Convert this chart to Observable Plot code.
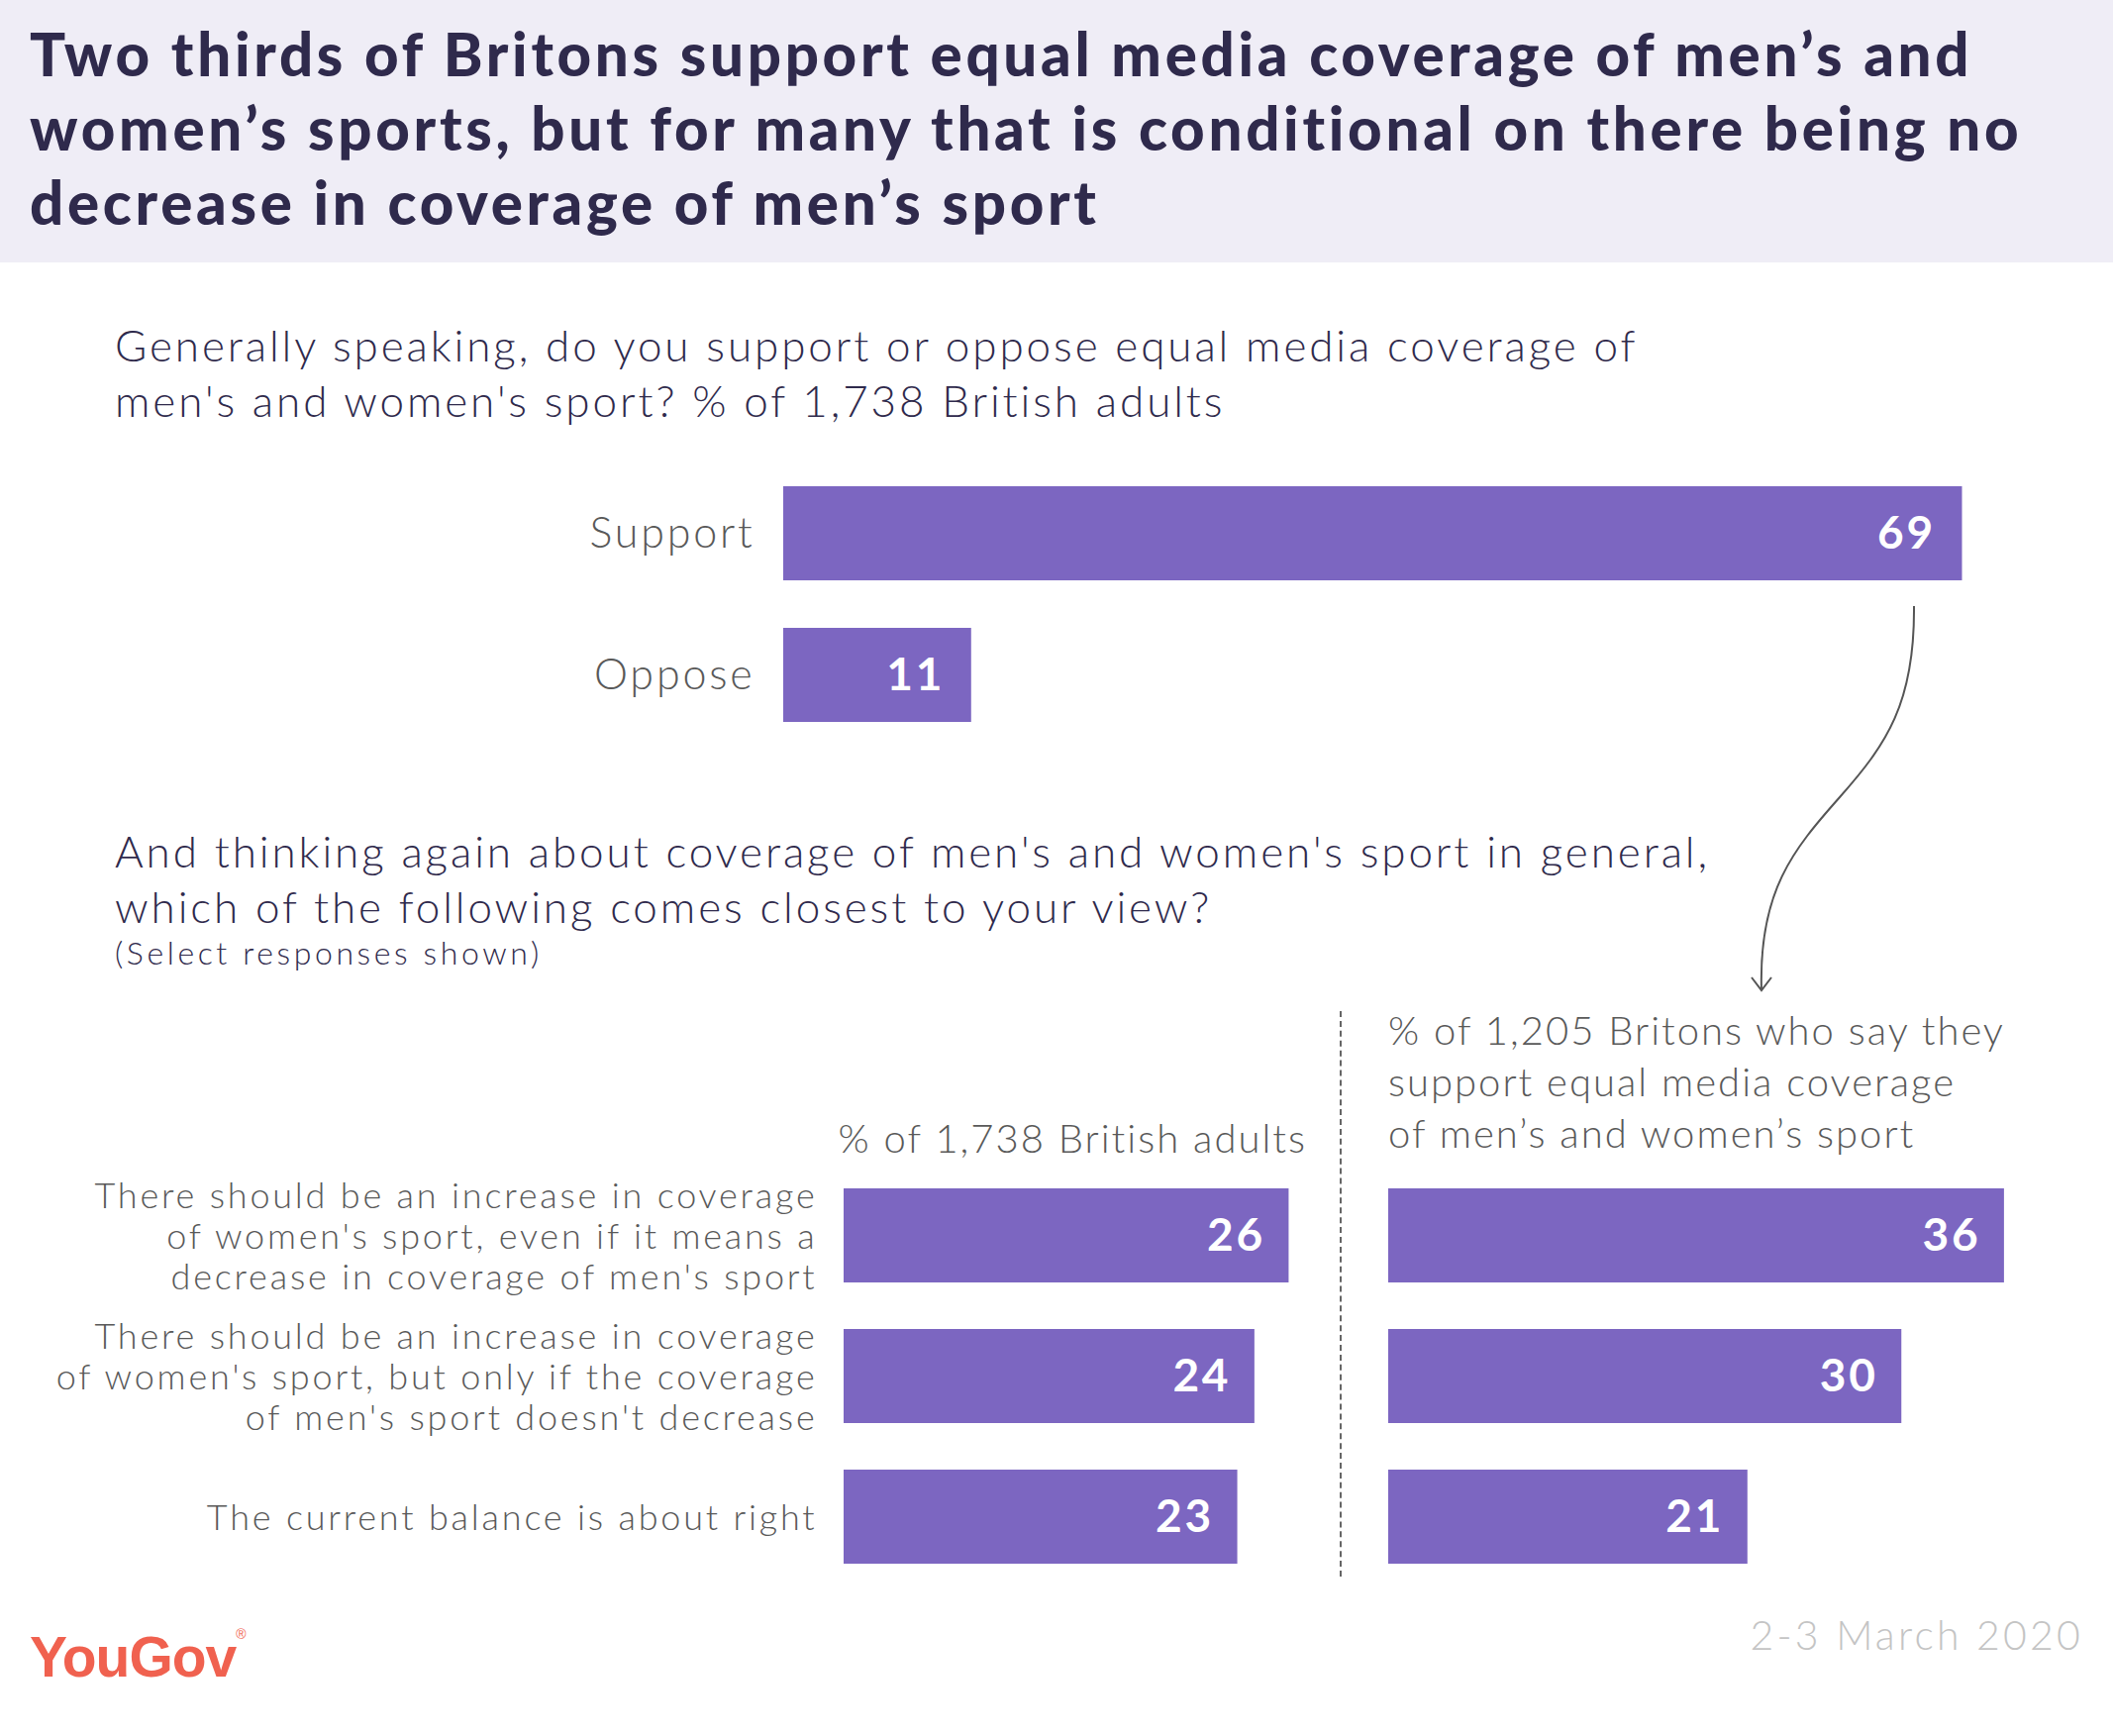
<!DOCTYPE html>
<html>
<head>
<meta charset="utf-8">
<script src="https://cdn.jsdelivr.net/npm/d3@7"></script>
<script src="https://cdn.jsdelivr.net/npm/@observablehq/plot@0.6"></script>
<style>
  html, body { margin: 0; padding: 0; background: #fff; }
  #page { position: relative; width: 2134px; height: 1753px; overflow: hidden; font-family: Lato, "Open Sans", sans-serif; background: #fff; }
  .abs { position: absolute; white-space: nowrap; }
  #header { position: absolute; left: 0; top: 0; width: 2134px; height: 265px; background: #efedf6; }
  #title { left: 30px; top: 17px; font-size: 60px; line-height: 75px; font-weight: 900; color: #2f2a4c; letter-spacing: 3.7px; }
  .q { color: #2f2a4c; font-weight: 300; letter-spacing: 2.9px; }
  #q1 { left: 116px; top: 320px; font-size: 44px; line-height: 56px; }
  #q2 { left: 116px; top: 831px; font-size: 44px; line-height: 56px; }
  #q2sub { left: 116px; top: 942px; font-size: 32px; line-height: 40px; letter-spacing: 3.6px; }
  .sub { color: #595959; font-weight: 300; font-size: 40px; letter-spacing: 2px; }
  #lefthead { right: 814px; top: 1124px; line-height: 50px; text-align: right; }
  #righthead { left: 1402px; top: 1014px; line-height: 52px; }
  #sep { position: absolute; left: 1353px; top: 1021px; width: 0; height: 571px; border-left: 2px dashed #666; }
  #logo { left: 30px; top: 1616px; font-family: "Liberation Sans", Arial, sans-serif; font-weight: 700; font-size: 57px; line-height: 68px; color: #f0614f; letter-spacing: -1px; }
  #logo sup { font-size: 14px; font-weight: 400; vertical-align: 38px; letter-spacing: 0; }
  #date { right: 30px; top: 1626px; font-size: 41px; line-height: 50px; color: #c4c4c4; font-weight: 300; letter-spacing: 3.2px; }
  .chart { position: absolute; }
  #arrow { position: absolute; left: 0; top: 0; }
</style>
</head>
<body>
<div id="page">
  <div id="header"></div>
  <div id="title" class="abs">Two thirds of Britons support equal media coverage of men’s and<br>women’s sports, but for many that is conditional on there being no<br>decrease in coverage of men’s sport</div>
  <div id="q1" class="abs q">Generally speaking, do you support or oppose equal media coverage of<br>men's and women's sport? % of 1,738 British adults</div>
  <div id="q2" class="abs q">And thinking again about coverage of men's and women's sport in general,<br>which of the following comes closest to your view?</div>
  <div id="q2sub" class="abs q">(Select responses shown)</div>
  <div id="lefthead" class="abs sub">% of 1,738 British adults</div>
  <div id="righthead" class="abs sub">% of 1,205 Britons who say they<br>support equal media coverage<br>of men’s and women’s sport</div>
  <div id="sep"></div>
  <div id="c1" class="chart" style="left:0px; top:467px;"></div>
  <div id="c2" class="chart" style="left:0px; top:1175px;"></div>
  <div id="c3" class="chart" style="left:1360px; top:1175px;"></div>
  <svg id="arrow" width="2134" height="1753" style="pointer-events:none">
    <path d="M1933,612 C1934,710 1905,752 1858,805 S1776,900 1779,1000" fill="none" stroke="#555" stroke-width="2"/>
    <path d="M1769,987 L1779,1000 L1789,987" fill="none" stroke="#555" stroke-width="2"/>
  </svg>
  <div id="logo" class="abs">YouGov<sup>®</sup></div>
  <div id="date" class="abs">2-3 March 2020</div>
</div>
<script>
// ---- Data ----
const q1Categories = ["Support", "Oppose"];
const q1Values = [69, 11];

const q2Categories = [
  "There should be an increase in coverage\nof women's sport, even if it means a\ndecrease in coverage of men's sport",
  "There should be an increase in coverage\nof women's sport, but only if the coverage\nof men's sport doesn't decrease",
  "The current balance is about right"
];
const q2AllAdults = [26, 24, 23];
const q2Supporters = [36, 30, 21];

const BAR = "#7c66c1";
const LABEL = "#595959";

const q1Data = q1Categories.map((c, i) => ({cat: c, v: q1Values[i]}));
const allData = q2Categories.map((c, i) => ({cat: c, v: q2AllAdults[i]}));
const supData = q2Categories.map((c, i) => ({cat: c, v: q2Supporters[i]}));

const baseStyle = {fontFamily: "Lato, 'Open Sans', sans-serif", background: "transparent", overflow: "visible", letterSpacing: "2.8px"};

// Chart 1
const c1 = Plot.plot({
  width: 2134, height: 286,
  marginLeft: 791, marginRight: 49, marginTop: 0, marginBottom: 0,
  style: baseStyle,
  x: {domain: [0, 75], axis: null},
  y: {domain: q1Categories, paddingInner: 0.336, paddingOuter: 0.168, axis: null},
  marks: [
    Plot.barX(q1Data, {x: "v", y: "cat", fill: BAR}),
    Plot.text(q1Data, {x: 0, y: "cat", text: "cat", textAnchor: "end", dx: -29, fontSize: 43, fontWeight: 300, fill: LABEL}),
    Plot.text(q1Data, {x: "v", y: "cat", text: d => String(d.v), textAnchor: "end", dx: -27, fontSize: 46, fontWeight: 700, fill: "white"})
  ]
});
document.getElementById("c1").appendChild(c1);

// Chart 2 (all adults)
const c2 = Plot.plot({
  width: 1340, height: 428,
  marginLeft: 852, marginRight: 4, marginTop: 0, marginBottom: 0,
  style: baseStyle,
  x: {domain: [0, 28], axis: null},
  y: {domain: q2Categories, paddingInner: 0.333, paddingOuter: 0.1667, axis: null},
  marks: [
    Plot.barX(allData, {x: "v", y: "cat", fill: BAR}),
    Plot.text(allData, {x: 0, y: "cat", text: "cat", textAnchor: "end", dx: -27, fontSize: 36, fontWeight: 300, lineHeight: 1.14, fill: LABEL}),
    Plot.text(allData, {x: "v", y: "cat", text: d => String(d.v), textAnchor: "end", dx: -24, fontSize: 46, fontWeight: 700, fill: "white"})
  ]
});
document.getElementById("c2").appendChild(c2);

// Chart 3 (supporters)
const c3 = Plot.plot({
  width: 743, height: 428,
  marginLeft: 42, marginRight: 10, marginTop: 0, marginBottom: 0,
  style: baseStyle,
  x: {domain: [0, 40], axis: null},
  y: {domain: q2Categories, paddingInner: 0.333, paddingOuter: 0.1667, axis: null},
  marks: [
    Plot.barX(supData, {x: "v", y: "cat", fill: BAR}),
    Plot.text(supData, {x: "v", y: "cat", text: d => String(d.v), textAnchor: "end", dx: -24, fontSize: 46, fontWeight: 700, fill: "white"})
  ]
});
document.getElementById("c3").appendChild(c3);
</script>
</body>
</html>
